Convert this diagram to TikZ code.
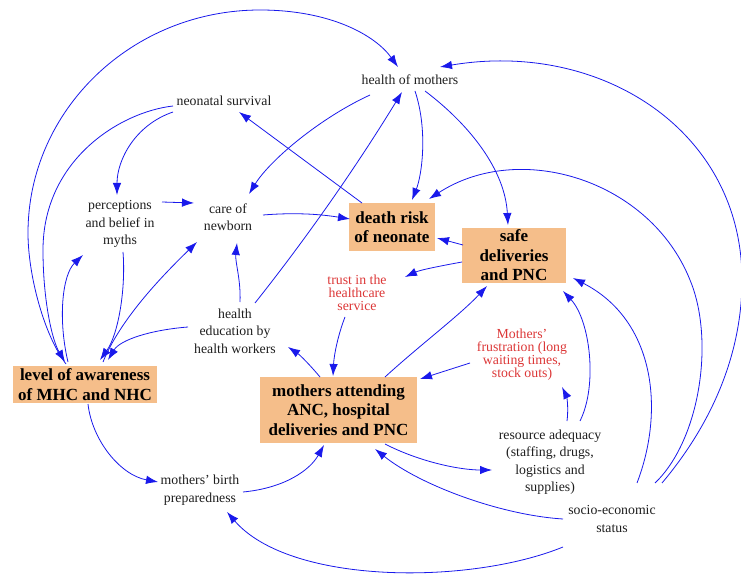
\documentclass[tikz,border=0pt]{standalone}
\usepackage{fontspec}
\setmainfont{Liberation Serif}
\usetikzlibrary{arrows.meta,calc}
\definecolor{edgeblue}{RGB}{25,25,235}
\definecolor{boxfill}{RGB}{245,190,138}
\definecolor{redtext}{RGB}{220,55,55}
\definecolor{darktext}{RGB}{30,30,30}
\begin{document}
\begin{tikzpicture}[x=1pt,y=-1pt,
  txt/.style={align=center,inner sep=0pt,text=darktext,font=\fontsize{13.8}{17.5}\selectfont},
  redtxt/.style={align=center,inner sep=0pt,text=redtext,font=\fontsize{13.8}{13}\selectfont},
  box/.style={align=center,inner sep=0pt,fill=boxfill,text=black,font=\bfseries\fontsize{17}{19.5}\selectfont},
  link/.style={draw=edgeblue,line width=0.8pt,-{Latex[length=12pt,width=8.5pt]}}
]
\useasboundingbox (0,0) rectangle (741,577);
% nodes
\node[txt] (HM) at (410,80) {health of mothers};
\node[txt] (NS) at (224,101) {neonatal survival};
\node[txt] (PB) at (120,224) {perceptions\\and belief in\\myths};
\node[txt] (CN) at (228,217) {care of\\newborn};
\node[box,minimum width=86pt,minimum height=48pt] (DR) at (392,227) {death risk\\of neonate};
\node[box,minimum width=104pt,minimum height=55pt] (SD) at (514,255.5) {safe\\deliveries\\and PNC};
\node[redtxt] (TR) at (357,293) {trust in the\\healthcare\\service};
\node[txt] (HE) at (235,331) {health\\education by\\health workers};
\node[box,minimum width=144pt,minimum height=37pt] (LA) at (85,384.5) {level of awareness\\of MHC and NHC};
\node[box,minimum width=157pt,minimum height=66pt] (MA) at (338.5,410) {mothers attending\\ANC, hospital\\deliveries and PNC};
\node[redtxt] (MF) at (522,355) {Mothers'\\frustration (long\\waiting times,\\stock outs)};
\node[txt] (RA) at (550,462) {resource adequacy\\(staffing, drugs,\\logistics and\\supplies)};
\node[txt] (MBP) at (200,490) {mothers' birth\\preparedness};
\node[txt] (SE) at (612,519) {socio-economic\\status};
% connectors
\draw[link] ($(LA.center)+(-19,-20.5)$) .. controls (44,335) and (28,275) .. (28,233) .. controls (28,110) and (132,10) .. (260,10) .. controls (330,10) and (375,35) .. ($(HM.center)+(-12,-13)$);
\draw[link] ($(NS.center)+(-51,5)$) .. controls (120,112) and (43,160) .. (43,250) .. controls (43,300) and (52,340) .. ($(LA.center)+(-20,-22.5)$);
\draw[link] ($(NS.center)+(-51,11)$) .. controls (135,125) and (117,160) .. ($(PB.center)+(-3,-29)$);
\draw[link] ($(PB.center)+(42,-22)$) -- ($(CN.center)+(-34,-14)$);
\draw[link] ($(HM.center)+(-40,15)$) .. controls (320,118) and (270,160) .. ($(CN.center)+(21,-23)$);
\draw[link] ($(CN.center)+(35,-2)$) .. controls (300,212) and (325,215) .. ($(DR.center)+(-42,-8)$);
\draw[link] ($(DR.center)+(-30,-24)$) -- ($(NS.center)+(15,11)$);
\draw[link] ($(HE.center)+(20,-28)$) .. controls (309,235) and (358,164) .. ($(HM.center)+(-8,12)$);
\draw[link] ($(HM.center)+(5,11)$) .. controls (428,130) and (422,175) .. ($(DR.center)+(20,-27)$);
\draw[link] ($(HM.center)+(15,11)$) .. controls (470,125) and (505,170) .. ($(SD.center)+(-6,-30.5)$);
\draw[link] ($(SE.center)+(50,-36)$) .. controls (715,420) and (742,350) .. (742,280) .. controls (742,130) and (600,40) .. ($(HM.center)+(30,-13)$);
\draw[link] ($(SE.center)+(43,-36)$) .. controls (700,440) and (715,340) .. (690,280) .. controls (650,180) and (520,140) .. ($(DR.center)+(37,-28)$);
\draw[link] ($(SE.center)+(25,-36)$) .. controls (665,410) and (655,320) .. ($(SD.center)+(59,22.5)$);
\draw[link] ($(RA.center)+(30,-41)$) .. controls (598,385) and (590,320) .. ($(SD.center)+(49,35.5)$);
\draw[link] ($(RA.center)+(17,-41)$) .. controls (569,405) and (566,395) .. ($(MF.center)+(40,32)$);
\draw[link] ($(MF.center)+(-52,8)$) -- ($(MA.center)+(81.5,-31)$);
\draw[link] ($(MA.center)+(46.5,-33)$) .. controls (420,345) and (460,315) .. ($(SD.center)+(-27,30.5)$);
\draw[link] ($(SD.center)+(-51,-10.5)$) -- ($(DR.center)+(45,11)$);
\draw[link] ($(SD.center)+(-52,6.5)$) .. controls (440,266) and (420,270) .. ($(TR.center)+(48,-16)$);
\draw[link] ($(TR.center)+(-12,24)$) .. controls (338,335) and (334,355) .. ($(MA.center)+(-5.5,-34)$);
\draw[link] ($(MA.center)+(-18.5,-33)$) .. controls (310,365) and (300,355) .. ($(HE.center)+(53,16)$);
\draw[link] ($(HE.center)+(5,-29)$) .. controls (241,280) and (235,262) .. ($(CN.center)+(9,26)$);
\draw[link] ($(HE.center)+(-47,-4)$) .. controls (150,330) and (120,340) .. ($(LA.center)+(23,-24.5)$);
\draw[link] ($(LA.center)+(18,-22.5)$) .. controls (120,320) and (160,278) .. ($(CN.center)+(-31,25)$);
\draw[link] ($(PB.center)+(3,28)$) .. controls (126,290) and (118,335) .. ($(LA.center)+(15,-24.5)$);
\draw[link] ($(LA.center)+(-17,-22.5)$) .. controls (58,320) and (62,275) .. ($(PB.center)+(-37,31)$);
\draw[link] ($(LA.center)+(3,19.5)$) .. controls (92,440) and (120,475) .. ($(MBP.center)+(-42,-8)$);
\draw[link] ($(MBP.center)+(43,2)$) .. controls (285,488) and (310,470) .. ($(MA.center)+(-14.5,35)$);
\draw[link] ($(SE.center)+(-49,28)$) .. controls (470,585) and (290,585) .. ($(MBP.center)+(27,22)$);
\draw[link] ($(SE.center)+(-49,0)$) .. controls (500,515) and (420,485) .. ($(MA.center)+(36.5,39)$);
\draw[link] ($(MA.center)+(46.5,34)$) .. controls (420,462) and (460,470) .. ($(RA.center)+(-58,8)$);
\end{tikzpicture}
\end{document}
